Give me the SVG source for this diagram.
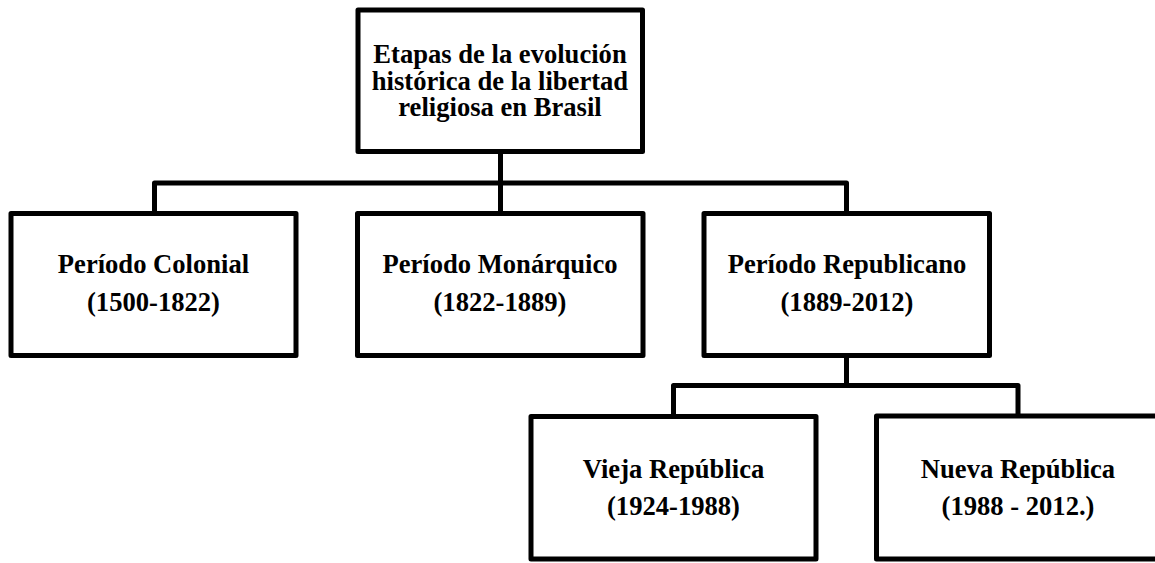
<svg xmlns="http://www.w3.org/2000/svg" width="1155" height="563" viewBox="0 0 1155 563">
<style>
.box{fill:#fff;stroke:#000;stroke-width:5;stroke-linejoin:round}
.conn{fill:none;stroke:#000;stroke-width:5;stroke-linejoin:round;stroke-linecap:butt}
text{font-family:"Liberation Serif","Times New Roman",serif;font-weight:bold;font-size:26.6px;fill:#000;text-anchor:middle}
</style>
<rect width="1155" height="563" fill="#fff"/>
<g id="connectors">
<path class="conn" d="M500.5 151.5 V213.5"/>
<path class="conn" d="M154.5 213.5 V183 H846.5 V213.5"/>
<path class="conn" d="M846.5 355.5 V385.5"/>
<path class="conn" d="M673.5 416.5 V385.5 H1018 V416.5"/>
</g>
<g id="root">
<rect class="box" x="358" y="10" width="284.5" height="141.5"/>
<text x="500" y="63">Etapas de la evolución</text>
<text x="500" y="90">histórica de la libertad</text>
<text x="500" y="116">religiosa en Brasil</text>
</g>
<g id="colonial">
<rect class="box" x="11" y="213.5" width="285" height="142"/>
<text x="153.5" y="272.5">Período Colonial</text>
<text x="153.5" y="310.5">(1500-1822)</text>
</g>
<g id="monarquico">
<rect class="box" x="357.5" y="213.5" width="285.5" height="142"/>
<text x="500" y="272.5">Período Monárquico</text>
<text x="500" y="310.5">(1822-1889)</text>
</g>
<g id="republicano">
<rect class="box" x="704" y="213.5" width="285.5" height="142"/>
<text x="847" y="272.5">Período Republicano</text>
<text x="847" y="310.5">(1889-2012)</text>
</g>
<g id="vieja">
<rect class="box" x="531" y="416.5" width="285" height="142.5"/>
<text x="673.5" y="477.5">Vieja República</text>
<text x="673.5" y="515">(1924-1988)</text>
</g>
<g id="nueva">
<rect class="box" x="876.5" y="416" width="284" height="143"/>
<text x="1018" y="477.5">Nueva República</text>
<text x="1018" y="515">(1988 - 2012.)</text>
</g>
</svg>
